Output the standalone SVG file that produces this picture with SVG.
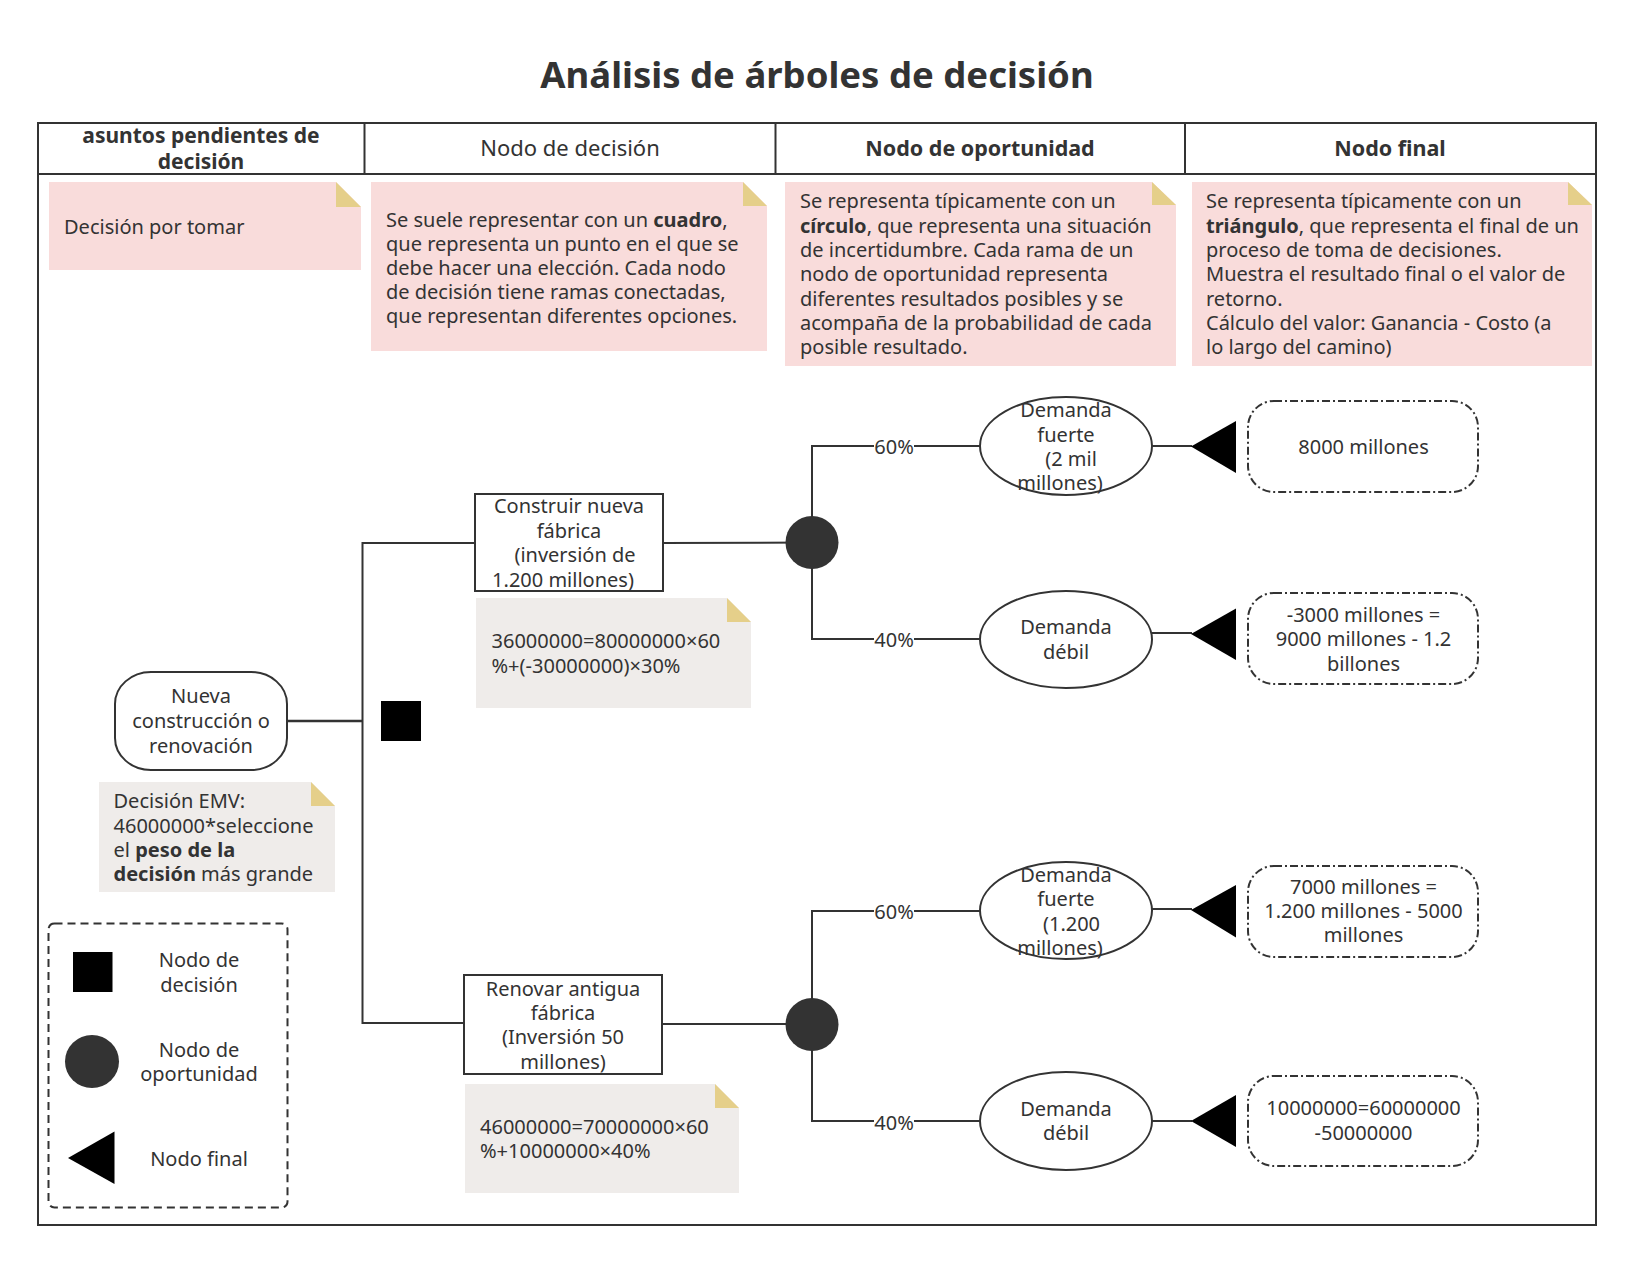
<svg xmlns="http://www.w3.org/2000/svg" width="1633" height="1262" viewBox="0 0 1633 1262">
<defs>
<style>
text{font-family:"Noto Sans","Open Sans","Liberation Sans",sans-serif;fill:#333;font-size:20px}
.b{font-weight:bold}
.m{text-anchor:middle}
.h{font-size:21.5px}
.frame{fill:none;stroke:#333;stroke-width:2}
.pink{fill:#F9DCDB}
.grey{fill:#EFECEA}
.fold{fill:#E5CF8A}
.ln{fill:none;stroke:#333;stroke-width:2}
.node{fill:#fff;stroke:#333;stroke-width:2}
.end{fill:#fff;stroke:#333;stroke-width:2;stroke-dasharray:8 3 2 3}
.chance{fill:#333}
.blk{fill:#000}
.lbl{fill:#fff}
</style>
</defs>
<rect width="1633" height="1262" fill="#fff"/>
<text id="title" class="b m" x="817" y="88" style="font-size:36.5px">Análisis de árboles de decisión</text>

<g id="table">
<rect class="frame" x="38" y="123" width="1558" height="1102"/>
<line class="frame" x1="38" y1="174" x2="1596" y2="174"/>
<line class="frame" x1="364.5" y1="123" x2="364.5" y2="174"/>
<line class="frame" x1="775.5" y1="123" x2="775.5" y2="174"/>
<line class="frame" x1="1185" y1="123" x2="1185" y2="174"/>
<text class="b m" x="201" y="142.5" style="font-size:21px">asuntos pendientes de<tspan x="201" dy="26">decisión</tspan></text>
<text class="m h" x="570" y="155.5" style="font-size:22px">Nodo de decisión</text>
<text class="b m h" x="980" y="155.5">Nodo de oportunidad</text>
<text class="b m h" x="1390" y="155.5">Nodo final</text>
</g>

<g id="note-pendientes">
<polygon class="pink" points="49,182 336,182 361,207 361,270 49,270"/>
<polygon class="fold" points="336,182 336,207 361,207"/>
<text x="64" y="234">Decisión por tomar</text>
</g>
<g id="note-decision">
<polygon class="pink" points="371,182 743,182 767,206 767,351 371,351"/>
<polygon class="fold" points="743,182 743,206 767,206"/>
<text x="386" y="227">Se suele representar con un <tspan class="b">cuadro</tspan>,</text>
<text x="386" y="251">que representa un punto en el que se</text>
<text x="386" y="275">debe hacer una elección. Cada nodo</text>
<text x="386" y="299">de decisión tiene ramas conectadas,</text>
<text x="386" y="323">que representan diferentes opciones.</text>
</g>
<g id="note-oportunidad">
<polygon class="pink" points="785,182 1152,182 1176,205 1176,366 785,366"/>
<polygon class="fold" points="1152,182 1152,205 1176,205"/>
<text x="800" y="208">Se representa típicamente con un</text>
<text x="800" y="232.5"><tspan class="b">círculo</tspan>, que representa una situación</text>
<text x="800" y="257">de incertidumbre. Cada rama de un</text>
<text x="800" y="281">nodo de oportunidad representa</text>
<text x="800" y="305.5">diferentes resultados posibles y se</text>
<text x="800" y="330">acompaña de la probabilidad de cada</text>
<text x="800" y="354">posible resultado.</text>
</g>
<g id="note-final">
<polygon class="pink" points="1192,182 1568,182 1592,205 1592,366 1192,366"/>
<polygon class="fold" points="1568,182 1568,205 1592,205"/>
<text x="1206" y="208">Se representa típicamente con un</text>
<text x="1206" y="232.5"><tspan class="b">triángulo</tspan>, que representa el final de un</text>
<text x="1206" y="257">proceso de toma de decisiones.</text>
<text x="1206" y="281">Muestra el resultado final o el valor de</text>
<text x="1206" y="305.5">retorno.</text>
<text x="1206" y="330">Cálculo del valor: Ganancia - Costo (a</text>
<text x="1206" y="354">lo largo del camino)</text>
</g>

<g id="connectors">
<line class="ln" x1="287" y1="721" x2="362.5" y2="721" style="stroke-width:2.5"/>
<polyline class="ln" points="475,543 362.5,543 362.5,1023 464,1023"/>
<line class="ln" x1="663" y1="543" x2="812" y2="542.5"/>
<line class="ln" x1="662" y1="1024" x2="812" y2="1024"/>
<polyline class="ln" points="980,446 812,446 812,639 980,639"/>
<polyline class="ln" points="980,911 812,911 812,1121 980,1121"/>
<line class="ln" x1="1152" y1="446" x2="1192" y2="446"/>
<line class="ln" x1="1152" y1="633" x2="1192" y2="633"/>
<line class="ln" x1="1152" y1="909" x2="1192" y2="909"/>
<line class="ln" x1="1152" y1="1121" x2="1192" y2="1121"/>
<rect class="lbl" x="874" y="436" width="40" height="20"/>
<rect class="lbl" x="874" y="629" width="40" height="20"/>
<rect class="lbl" x="874" y="901" width="40" height="20"/>
<rect class="lbl" x="874" y="1111" width="40" height="20"/>
<text class="m" x="894" y="454">60%</text>
<text class="m" x="894" y="647">40%</text>
<text class="m" x="894" y="919">60%</text>
<text class="m" x="894" y="1130">40%</text>
</g>

<g id="start">
<rect class="node" x="115" y="672" width="172" height="98" rx="36" ry="32"/>
<text class="m" x="201" y="703">Nueva</text>
<text class="m" x="201" y="728">construcción o</text>
<text class="m" x="201" y="752.5">renovación</text>
</g>
<g id="note-emv">
<polygon class="grey" points="99,782 311,782 335,806 335,892 99,892"/>
<polygon class="fold" points="311,782 311,806 335,806"/>
<text x="113.5" y="808">Decisión EMV:</text>
<text x="113.5" y="832.5">46000000*seleccione</text>
<text x="113.5" y="857">el <tspan class="b">peso de la</tspan></text>
<text x="113.5" y="881"><tspan class="b">decisión</tspan> más grande</text>
</g>
<g id="decision-node">
<rect class="blk" x="381" y="701" width="40" height="40"/>
</g>

<g id="construir">
<rect class="node" x="475" y="494" width="188" height="97"/>
<text class="m" x="569" y="513">Construir nueva</text>
<text class="m" x="569" y="537.5">fábrica</text>
<text class="m" x="575" y="562">(inversión de</text>
<text class="m" x="563" y="586.5">1.200 millones)</text>
</g>
<g id="note-construir">
<polygon class="grey" points="476,598 727,598 751,622 751,708 476,708"/>
<polygon class="fold" points="727,598 727,622 751,622"/>
<text x="491.5" y="648">36000000=80000000×60</text>
<text x="491.5" y="672.5">%+(-30000000)×30%</text>
</g>
<g id="renovar">
<rect class="node" x="464" y="975" width="198" height="99"/>
<text class="m" x="563" y="996">Renovar antigua</text>
<text class="m" x="563" y="1020">fábrica</text>
<text class="m" x="563" y="1044">(Inversión 50</text>
<text class="m" x="563" y="1068.5">millones)</text>
</g>
<g id="note-renovar">
<polygon class="grey" points="465,1084 715,1084 739,1108 739,1193 465,1193"/>
<polygon class="fold" points="715,1084 715,1108 739,1108"/>
<text x="480" y="1134">46000000=70000000×60</text>
<text x="480" y="1158">%+10000000×40%</text>
</g>

<g id="chance-1"><circle class="chance" cx="812" cy="542.5" r="26.5"/></g>
<g id="chance-2"><circle class="chance" cx="812" cy="1024.5" r="26.5"/></g>

<g id="fuerte-1">
<ellipse class="node" cx="1066" cy="446" rx="86" ry="49"/>
<text class="m" x="1066" y="417">Demanda</text>
<text class="m" x="1066" y="441.5">fuerte</text>
<text class="m" x="1071" y="466">(2 mil</text>
<text class="m" x="1060" y="490">millones)</text>
</g>
<g id="debil-1">
<ellipse class="node" cx="1066" cy="639.5" rx="86" ry="48.5"/>
<text class="m" x="1066" y="634">Demanda</text>
<text class="m" x="1066" y="658.5">débil</text>
</g>
<g id="fuerte-2">
<ellipse class="node" cx="1066" cy="910.5" rx="86" ry="48.5"/>
<text class="m" x="1066" y="882">Demanda</text>
<text class="m" x="1066" y="906">fuerte</text>
<text class="m" x="1071.5" y="930.5">(1.200</text>
<text class="m" x="1060" y="954.5">millones)</text>
</g>
<g id="debil-2">
<ellipse class="node" cx="1066" cy="1121" rx="86" ry="49"/>
<text class="m" x="1066" y="1115.5">Demanda</text>
<text class="m" x="1066" y="1140">débil</text>
</g>

<g id="end-1">
<polygon class="blk" points="1191,446.5 1236,421 1236,473"/>
<rect class="end" x="1248" y="401" width="230" height="91" rx="26"/>
<text class="m" x="1363.5" y="454">8000 millones</text>
</g>
<g id="end-2">
<polygon class="blk" points="1191,634 1236,608.5 1236,660"/>
<rect class="end" x="1248" y="593" width="230" height="91" rx="26"/>
<text class="m" x="1363.5" y="621.5">-3000 millones =</text>
<text class="m" x="1363.5" y="646">9000 millones - 1.2</text>
<text class="m" x="1363.5" y="670.5">billones</text>
</g>
<g id="end-3">
<polygon class="blk" points="1191,910 1236,885 1236,937.5"/>
<rect class="end" x="1248" y="866" width="230" height="91" rx="26"/>
<text class="m" x="1363.5" y="893.5">7000 millones =</text>
<text class="m" x="1363.5" y="917.5">1.200 millones - 5000</text>
<text class="m" x="1363.5" y="941.5">millones</text>
</g>
<g id="end-4">
<polygon class="blk" points="1191,1121 1236,1095 1236,1147"/>
<rect class="end" x="1248" y="1076" width="230" height="90" rx="26"/>
<text class="m" x="1363.5" y="1115">10000000=60000000</text>
<text class="m" x="1363.5" y="1140">-50000000</text>
</g>

<g id="legend">
<rect x="48.5" y="923.5" width="239" height="284" rx="6" fill="none" stroke="#333" stroke-width="2" stroke-dasharray="8 5"/>
<rect class="blk" x="73" y="952" width="39.5" height="40"/>
<text class="m" x="199" y="966.5">Nodo de</text>
<text class="m" x="199" y="991.5">decisión</text>
<ellipse class="chance" cx="92" cy="1061.5" rx="27" ry="26.5"/>
<text class="m" x="199" y="1056.5">Nodo de</text>
<text class="m" x="199" y="1080.5">oportunidad</text>
<polygon class="blk" points="68,1158 114.5,1131.5 114.5,1184"/>
<text class="m" x="199" y="1166">Nodo final</text>
</g>
</svg>
